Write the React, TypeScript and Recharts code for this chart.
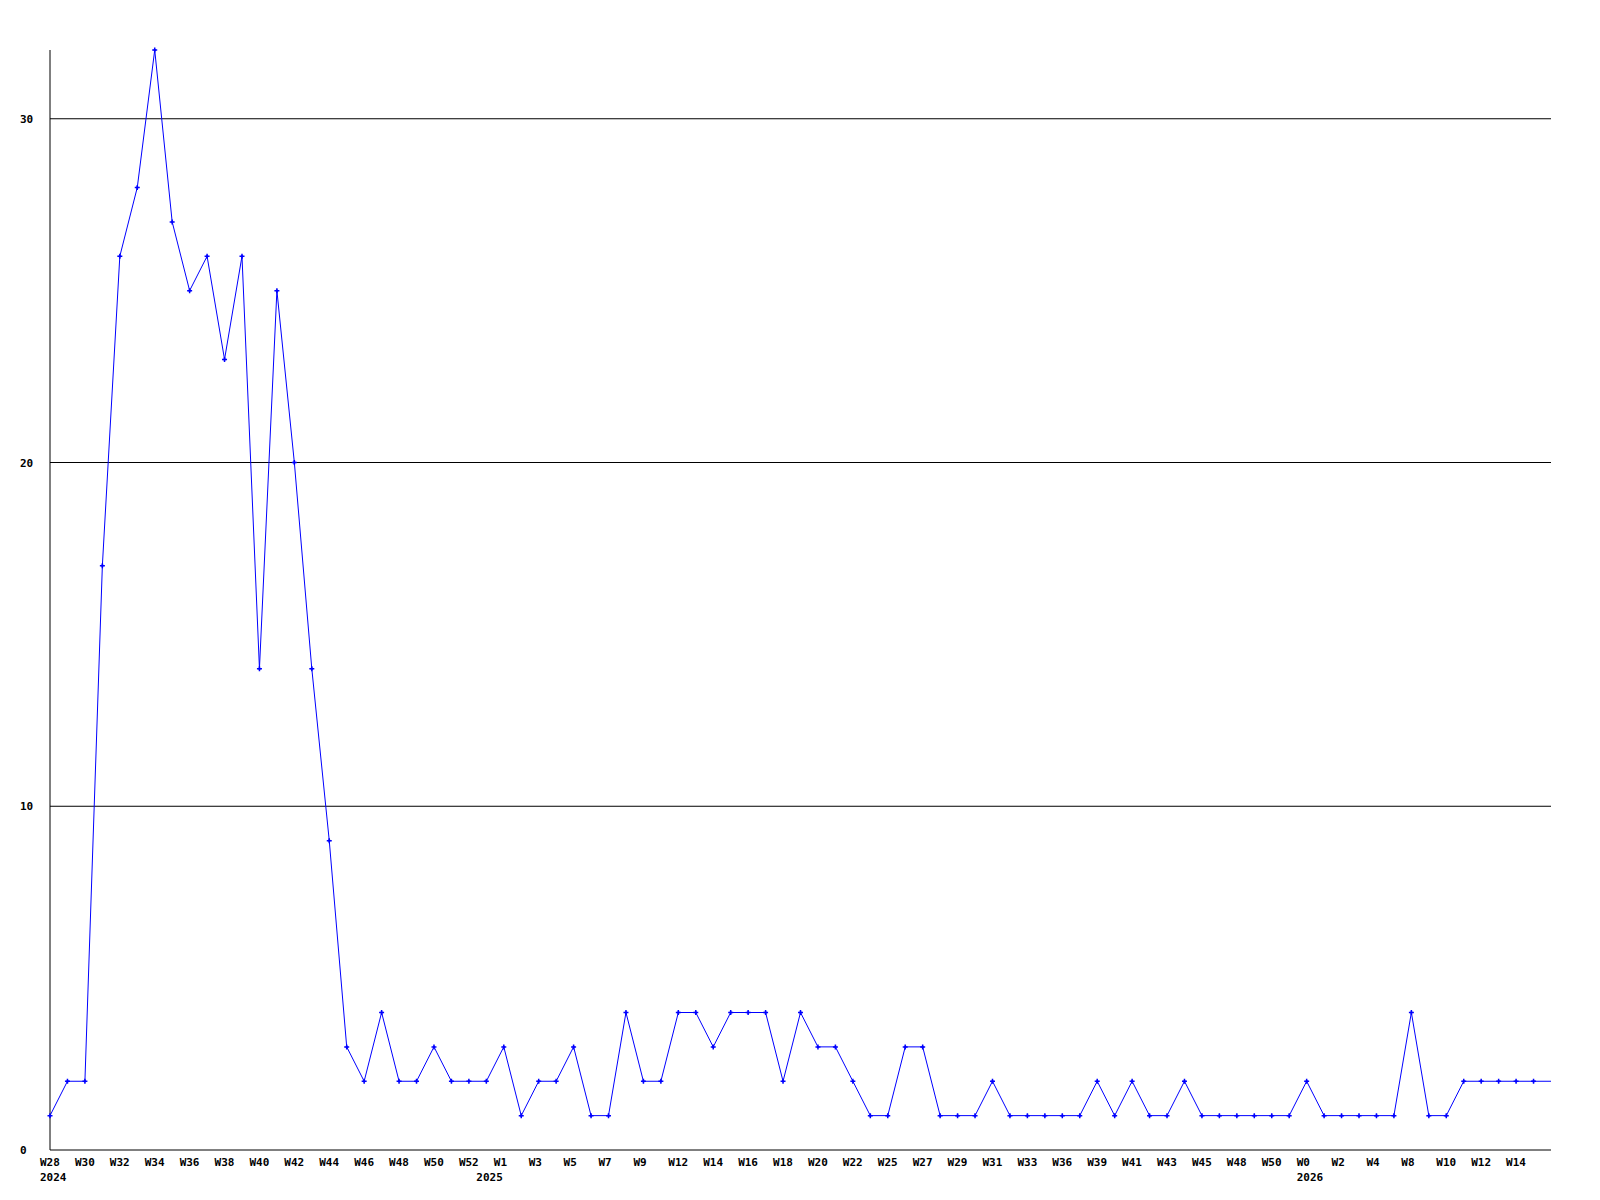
import { Line, LineChart, ReferenceLine, XAxis, YAxis } from "recharts";

// weekly counts, W28 2024 .. W16 2026 (weeks without data are skipped)
const weeks = [
  "W28", "W29", "W30", "W31", "W32", "W33", "W34", "W35", "W36", "W37",
  "W38", "W39", "W40", "W41", "W42", "W43", "W44", "W45", "W46", "W47",
  "W48", "W49", "W50", "W51", "W52",
  "W0", "W1", "W2", "W3", "W4", "W5", "W6", "W7", "W8", "W9",
  "W10", "W12", "W13", "W14", "W15", "W16", "W17", "W18", "W19", "W20",
  "W21", "W22", "W23", "W25", "W26", "W27", "W28", "W29", "W30", "W31",
  "W32", "W33", "W34", "W36", "W37", "W39", "W40", "W41", "W42", "W43",
  "W44", "W45", "W46", "W48", "W49", "W50", "W51",
  "W0", "W1", "W2", "W3", "W4", "W6", "W8", "W9", "W10", "W11",
  "W12", "W13", "W14", "W15", "W16",
];

// year shown under the first week of each year
const yearStarts: Record<number, string> = { 0: "2024", 25: "2025", 72: "2026" };

const counts = [
  1, 2, 2, 17, 26, 28, 32, 27, 25, 26,
  23, 26, 14, 25, 20, 14, 9, 3, 2, 4,
  2, 2, 3, 2, 2, 2, 3, 1, 2, 2,
  3, 1, 1, 4, 2, 2, 4, 4, 3, 4,
  4, 4, 2, 4, 3, 3, 2, 1, 1, 3,
  3, 1, 1, 1, 2, 1, 1, 1, 1, 1,
  2, 1, 2, 1, 1, 2, 1, 1, 1, 1,
  1, 1, 2, 1, 1, 1, 1, 1, 4, 1,
  1, 2, 2, 2, 2, 2, 2,
];

const yTicks = [0, 10, 20, 30];
const gridLines = [10, 20, 30];

const data = weeks.map((w, i) => ({ i, week: w, count: counts[i] }));
const last = data.length - 1;

const font = "'DejaVu Sans Mono', monospace";

function WeekTick(props: any) {
  const { x, y, payload } = props;
  const i = payload.value as number;
  const year = yearStarts[i];
  return (
    <g>
      {i % 2 === 0 && i !== last && (
        <text x={x - 10} y={y} dy={8} fontFamily={font} fontWeight="bold" fontSize={11} fill="#000">
          {weeks[i]}
        </text>
      )}
      {year && (
        <text x={x - 10} y={y} dy={23} fontFamily={font} fontWeight="bold" fontSize={11} fill="#000">
          {year}
        </text>
      )}
    </g>
  );
}

function CountTick(props: any) {
  const { y, payload } = props;
  return (
    <text x={20} y={y} dy={4} fontFamily={font} fontWeight="bold" fontSize={11} fill="#000">
      {payload.value}
    </text>
  );
}

function Marker(props: any) {
  const { cx, cy, index } = props;
  if (cx == null || cy == null || index === last) return null;
  return (
    <g>
      <path d={`M${cx - 2.5},${cy}h5M${cx},${cy - 2.5}v5`} stroke="#0000ff" strokeWidth={1.5} />
      <rect x={cx - 1} y={cy - 1} width={2} height={2} fill="#0000ff" />
    </g>
  );
}

export default function App() {
  return (
    <div style={{ position: "absolute", left: 0, top: 0, background: "#fff" }}>
      <LineChart width={1600} height={1200} data={data} margin={{ top: 50, right: 49, bottom: 0, left: 0 }}>
        <XAxis
          dataKey="i"
          type="category"
          interval={0}
          height={50}
          axisLine={{ stroke: "#000" }}
          tickLine={false}
          tick={<WeekTick />}
        />
        <YAxis
          domain={[0, 32]}
          ticks={yTicks}
          width={50}
          axisLine={{ stroke: "#000" }}
          tickLine={false}
          tick={<CountTick />}
        />
        {gridLines.map((v) => (
          <ReferenceLine key={v} y={v} stroke="#000" strokeWidth={1} />
        ))}
        <Line
          type="linear"
          dataKey="count"
          stroke="#0000ff"
          strokeWidth={1}
          dot={<Marker />}
          activeDot={false}
          isAnimationActive={false}
        />
      </LineChart>
    </div>
  );
}
